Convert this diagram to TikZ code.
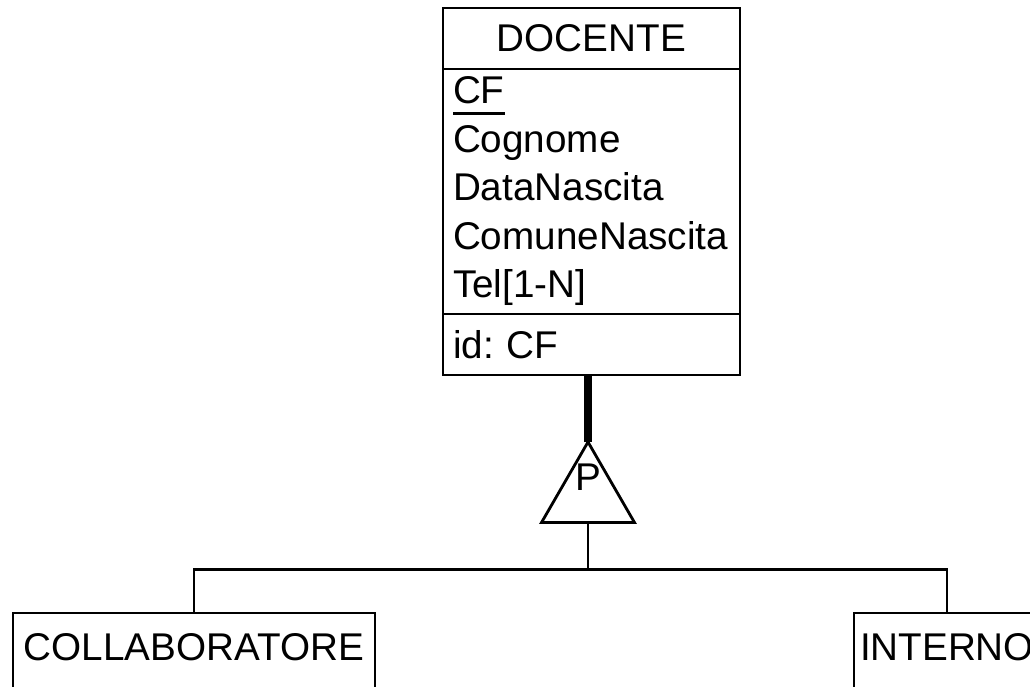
\documentclass[tikz,border=0pt]{standalone}
\usepackage{fontspec}
\setmainfont{Liberation Sans}
\usepackage{tikz}
\usetikzlibrary{shapes.geometric,positioning,calc}

\newcommand{\idattr}[1]{\setbox0\hbox{#1}\rlap{\rule[-0.115cm]{\wd0}{0.85pt}}\box0}

\tikzset{
	entity/.style={draw, rectangle, line width=0.85pt, inner xsep=0.1cm, inner ysep=0pt, outer sep=0pt, text width=2.77cm, minimum height=0.61cm},
	child/.style={draw, rectangle, line width=0.85pt, inner sep=0pt, outer sep=0pt, minimum height=1.5cm},
	isa/.style={draw, regular polygon, regular polygon sides=3, minimum size=1.074cm, inner sep=0pt, outer sep=0pt, line width=0.8pt},
	labeltext/.style={inner sep=0pt}
}

\begin{document}
\begin{tikzpicture}[font=\fontsize{11}{13.8}\selectfont\frenchspacing, line width=0.85pt]
		\clip (0,0) rectangle (10.30,-6.87);

		% entita padre
		\node[entity, align=center, anchor=north west] (dochead) at (4.43,-0.08) {DOCENTE};
		\node[entity, align=left, minimum height=2.45cm, below=0pt of dochead] (docattr) {\idattr{CF}\\Cognome\\DataNascita\\ComuneNascita\\Tel[1-N]};
		\node[entity, align=left, below=0pt of docattr] (docid) {id: CF};

		% generalizzazione
		\node[isa] (isa) at (5.88,-4.957) {};
		\node[labeltext] (isaP) at ([yshift=0.187cm]isa.center) {P};
		\draw[line width=2pt] (isa.north) -- (isa.north |- docid.south);
		\coordinate (junc) at ([yshift=-0.47cm]isa.south);
		\draw (isa.south) -- (junc);

		% entita figlie
		\node[child, minimum width=3.62cm, anchor=north west] (collab) at (0.13,-6.13) {};
		\node[child, minimum width=1.86cm, anchor=north west] (interno) at (8.54,-6.13) {};
		\node[labeltext, anchor=base] (collabname) at ([yshift=-0.47cm]collab.north) {COLLABORATORE};
		\node[labeltext, anchor=base] (internoname) at ([yshift=-0.47cm]interno.north) {INTERNO};

		\draw (collab.north) |- (junc) -| (interno.north);
	\end{tikzpicture}
\end{document}
